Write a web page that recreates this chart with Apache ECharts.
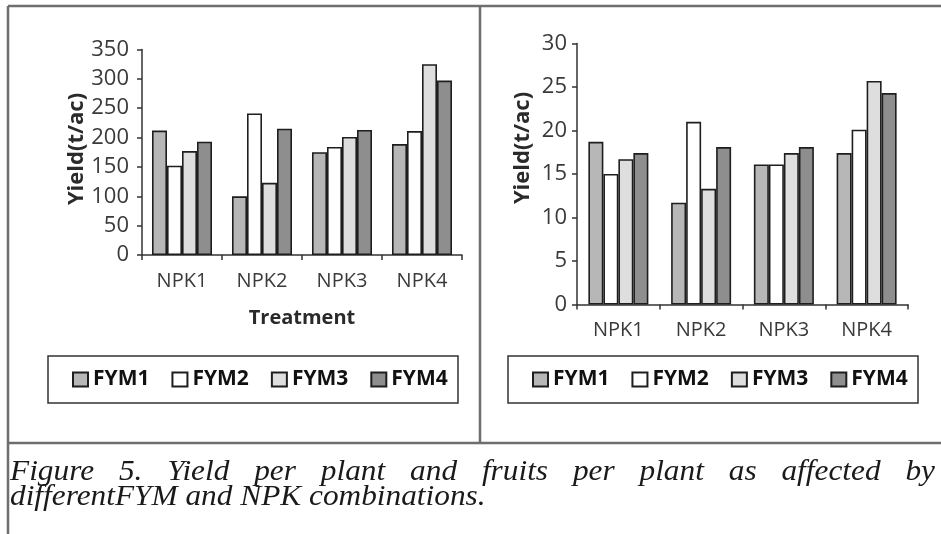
<!DOCTYPE html>
<html>
<head>
<meta charset="utf-8">
<script src="https://cdn.jsdelivr.net/npm/echarts@6/dist/echarts.min.js"></script>
<style>
  html, body { margin: 0; padding: 0; background: #fff; }
  #chart { width: 941px; height: 534px; }
</style>
</head>
<body>
<div id="chart"></div>
<script>
// Treatments on the x axis
const categories = ['NPK1', 'NPK2', 'NPK3', 'NPK4'];
const fymNames = ['FYM1', 'FYM2', 'FYM3', 'FYM4'];

// Left panel: yield per plant
const leftTicks = [0, 350, 50];           // min, max, interval
const leftFYM1 = [212, 100, 175, 189];
const leftFYM2 = [152, 241, 184, 211];
const leftFYM3 = [177, 123, 201, 325];
const leftFYM4 = [193, 215, 213, 297];

// Right panel: fruits per plant
const rightTicks = [0, 30, 5];
const rightFYM1 = [18.7, 11.7, 16.1, 17.4];
const rightFYM2 = [15.0, 21.0, 16.1, 20.1];
const rightFYM3 = [16.7, 13.3, 17.4, 25.7];
const rightFYM4 = [17.4, 18.1, 18.1, 24.3];

const yTitle = 'Yield(t/ac)';
const xTitle = 'Treatment';
const captionLine1 = 'Figure 5. Yield per plant and fruits per plant as affected by';
const captionLine2 = 'differentFYM and NPK combinations.';

const fills = ['#b7b7b7', '#ffffff', '#dedede', '#8e8e8e'];
const edge = '#1e1e1e';
const sans = '"Open Sans", sans-serif';
const serif = 'Liberation Serif';
const frame = '#6e6e6e';

const chart = echarts.init(document.getElementById('chart'), null, { renderer: 'canvas' });

function axisPair(gridIndex, ticks, withName, labelMargin) {
  const x = {
    type: 'category', gridIndex, data: categories,
    axisLine: { lineStyle: { color: '#333', width: 1.5 } },
    axisTick: { show: true, length: 5, lineStyle: { color: '#333', width: 1.5 } },
    axisLabel: { color: '#3a3a3a', fontFamily: sans, fontSize: 20, margin: 16 },
    splitLine: { show: false }
  };
  if (withName) {
    Object.assign(x, {
      name: xTitle, nameLocation: 'middle', nameGap: 53,
      nameTextStyle: { color: '#2a2a2a', fontFamily: sans, fontSize: 20, fontWeight: 'bold' }
    });
  }
  const y = {
    type: 'value', gridIndex, min: ticks[0], max: ticks[1], interval: ticks[2],
    axisLine: { show: true, lineStyle: { color: '#333', width: 1.5 } },
    axisTick: { show: true, length: 5, lineStyle: { color: '#333', width: 1.5 } },
    axisLabel: { color: '#3a3a3a', fontFamily: sans, fontSize: 22, margin: labelMargin },
    splitLine: { show: false }
  };
  return [x, y];
}

const [lx, ly] = axisPair(0, leftTicks, true, 13);
const [rx, ry] = axisPair(1, rightTicks, false, 10);

function barSeries(idx, name, data, gap) {
  return {
    type: 'bar', name, data,
    xAxisIndex: idx, yAxisIndex: idx,
    barGap: '0%', barCategoryGap: gap,
    itemStyle: { color: fills[fymNames.indexOf(name)], borderColor: edge, borderWidth: 1.6 },
    emphasis: { disabled: true },
    animation: false
  };
}

const leftSets = [leftFYM1, leftFYM2, leftFYM3, leftFYM4];
const rightSets = [rightFYM1, rightFYM2, rightFYM3, rightFYM4];
const series = [];
fymNames.forEach((n, i) => series.push(barSeries(0, n, leftSets[i], '25%')));
fymNames.forEach((n, i) => series.push(barSeries(1, n, rightSets[i], '27.5%')));

// Caption, set in a justified first line and a ragged second line
const capSize = 29;
const capScale = 1.08;
const measure = document.createElement('canvas').getContext('2d');
measure.font = 'italic ' + capSize + 'px "' + serif + '"';
const capLeft = 10, capRight = 935;
const words = captionLine1.split(' ');
const widths = words.map(w => measure.measureText(w).width * capScale);
const spare = (capRight - capLeft) - widths.reduce((a, b) => a + b, 0);
const wordGap = spare / (words.length - 1);
function capStyle(text) {
  return { text, fontSize: capSize, fontStyle: 'italic', fontFamily: serif,
    fill: '#1a1a1a', align: 'left', verticalAlign: 'middle' };
}
const captionEls = [];
let cx = capLeft;
words.forEach((w, i) => {
  captionEls.push({ type: 'text', x: cx, y: 472, scaleX: capScale, silent: true, style: capStyle(w) });
  cx += widths[i] + wordGap;
});
captionEls.push({ type: 'text', x: capLeft, y: 497, scaleX: capScale, silent: true, style: capStyle(captionLine2) });

function line(x1, y1, x2, y2) {
  return { type: 'line', silent: true, shape: { x1, y1, x2, y2 }, style: { stroke: frame, lineWidth: 2.5 } };
}

function yName(x, y) {
  return {
    type: 'text', x, y, rotation: Math.PI / 2, silent: true,
    style: { text: yTitle, fill: '#2a2a2a', fontSize: 22, fontWeight: 'bold', fontFamily: sans,
      align: 'center', verticalAlign: 'middle' }
  };
}

function legendBox(x) {
  return { type: 'rect', silent: true, shape: { x, y: 356, width: 410, height: 47 },
    style: { fill: 'none', stroke: '#333', lineWidth: 1.5 } };
}

const legendBase = {
  data: fymNames, orient: 'horizontal', itemWidth: 15, itemHeight: 14, itemGap: 22,
  icon: 'rect', selectedMode: false, padding: 0,
  textStyle: { color: '#111', fontFamily: sans, fontSize: 21, fontWeight: 'bold' }
};

chart.setOption({
  backgroundColor: '#fff',
  animation: false,
  grid: [
    { left: 142, top: 49.5, width: 320, height: 205.5 },
    { left: 577, top: 43.5, width: 331, height: 261 }
  ],
  xAxis: [lx, rx],
  yAxis: [ly, ry],
  legend: [
    Object.assign({}, legendBase, { left: 72, top: 369 }),
    Object.assign({}, legendBase, { left: 532, top: 369 })
  ],
  series,
  graphic: [
    line(8, 6, 941, 6),
    line(8, 6, 8, 534),
    line(8, 443, 941, 443),
    line(480, 6, 480, 443),
    legendBox(48),
    legendBox(508),
    yName(77, 149),
    yName(523, 148)
  ].concat(captionEls)
});
</script>
</body>
</html>
